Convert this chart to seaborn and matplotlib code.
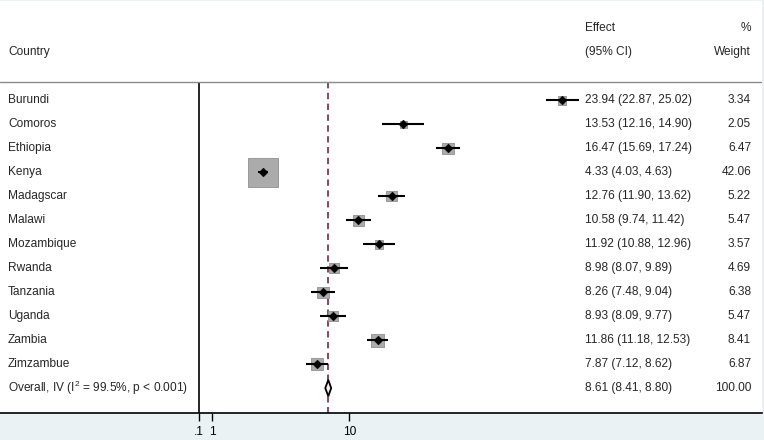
import numpy as np
import pandas as pd
import seaborn as sns
from matplotlib import pyplot as plt

countries = ["Burundi", "Comoros", "Ethiopia", "Kenya", "Madagscar", "Malawi", "Mozambique",
             "Rwanda", "Tanzania", "Uganda", "Zambia", "Zimzambue"]
effects = [23.94, 13.53, 16.47, 4.33, 12.76, 10.58, 11.92, 8.98, 8.26, 8.93, 11.86, 7.87]
ci_low = [22.87, 12.16, 15.69, 4.03, 11.90, 9.74, 10.88, 8.07, 7.48, 8.09, 11.18, 7.12]
ci_high = [25.02, 14.90, 17.24, 4.63, 13.62, 11.42, 12.96, 9.89, 9.04, 9.77, 12.53, 8.62]
weights = [3.34, 2.05, 6.47, 42.06, 5.22, 5.47, 3.57, 4.69, 6.38, 5.47, 8.41, 6.87]

overall_label = "Overall, IV (I$^{\\mathregular{2}}$ = 99.5%, p < 0.001)"
overall_effect = 8.61
overall_low = 8.41
overall_high = 8.80
overall_weight = 100.00

tick_values = [0.1, 1, 10]
tick_labels = [".1", "1", "10"]

sns.set_theme(style="white")
plt.rcParams["font.family"] = ["Liberation Sans", "DejaVu Sans"]

df = pd.DataFrame({"country": countries, "effect": effects, "low": ci_low,
                   "high": ci_high, "weight": weights})
df["row"] = np.arange(len(df))
overall_row = len(df)

fig = plt.figure(figsize=(7.64, 4.40), dpi=100)
fig.patch.set_facecolor("#eaf2f3")
ax = fig.add_axes([0, 27 / 440, 762 / 764, 412 / 440])
ax.set_facecolor("white")

# weight boxes, area proportional to weight
sns.scatterplot(data=df, x="effect", y="row", size="weight", sizes=(0, 440),
                size_norm=(0, 42.06), marker="s", color="#ababab", edgecolor="#8f8f8f",
                linewidth=0.6, legend=False, ax=ax, zorder=2)
ax.hlines(df["row"], df["low"], df["high"], color="black", linewidth=1.5, zorder=3)
sns.scatterplot(data=df, x="effect", y="row", marker="D", s=20, color="black",
                edgecolor="black", legend=False, ax=ax, zorder=4)

# overall diamond
h = 0.34
ax.fill([overall_low, overall_effect, overall_high, overall_effect],
        [overall_row, overall_row - h, overall_row, overall_row + h],
        facecolor="#f4eef0", edgecolor="black", linewidth=1.3, zorder=4)

ytop = -0.79
ybot = 13.04
ax.vlines(0.1, ytop, ybot, color="black", linewidth=1.2, zorder=1)
ax.vlines(overall_effect, ytop, ybot, color="#7d3a4c", linewidth=1.3,
          linestyles=(0, (3.5, 2.5)), zorder=1)
ax.axhline(ytop, color="#8a8a8a", linewidth=1.0)

# text columns
tr = ax.get_yaxis_transform()
fs = 8.6
for _, r in df.iterrows():
    ax.text(0.0105, r["row"], r["country"], transform=tr, fontsize=fs, va="center")
    ax.text(0.768, r["row"], f"{r['effect']:.2f} ({r['low']:.2f}, {r['high']:.2f})",
            transform=tr, fontsize=fs, va="center")
    ax.text(0.9856, r["row"], f"{r['weight']:.2f}", transform=tr, fontsize=fs,
            va="center", ha="right")
ax.text(0.0105, overall_row, overall_label, transform=tr, fontsize=fs, va="center")
ax.text(0.768, overall_row, f"{overall_effect:.2f} ({overall_low:.2f}, {overall_high:.2f})",
        transform=tr, fontsize=fs, va="center")
ax.text(0.9856, overall_row, f"{overall_weight:.2f}", transform=tr, fontsize=fs,
        va="center", ha="right")

ax.text(0.0105, -2.03, "Country", transform=tr, fontsize=fs, va="center")
ax.text(0.768, -3.03, "Effect", transform=tr, fontsize=fs, va="center")
ax.text(0.768, -2.03, "(95% CI)", transform=tr, fontsize=fs, va="center")
ax.text(0.9856, -3.03, "%", transform=tr, fontsize=fs, va="center", ha="right")
ax.text(0.9856, -2.03, "Weight", transform=tr, fontsize=fs, va="center", ha="right")

ax.set_xlim(-197 / 15.25, 565 / 15.25)
ax.set_ylim(ybot, -99 / 24.08 - 0.04)
ax.set_xticks(tick_values)
ax.set_xticklabels(tick_labels, fontsize=fs)
ax.set_yticks([])
ax.set_xlabel("")
ax.set_ylabel("")
for s in ["top", "left", "right"]:
    ax.spines[s].set_visible(False)
ax.spines["bottom"].set_color("black")
ax.spines["bottom"].set_linewidth(1.2)
ax.tick_params(axis="x", bottom=True, direction="out", length=6, width=1, color="black",
               pad=3, labelcolor="black")

fig.savefig("out.png", dpi=100, facecolor=fig.get_facecolor())
plt.close()
